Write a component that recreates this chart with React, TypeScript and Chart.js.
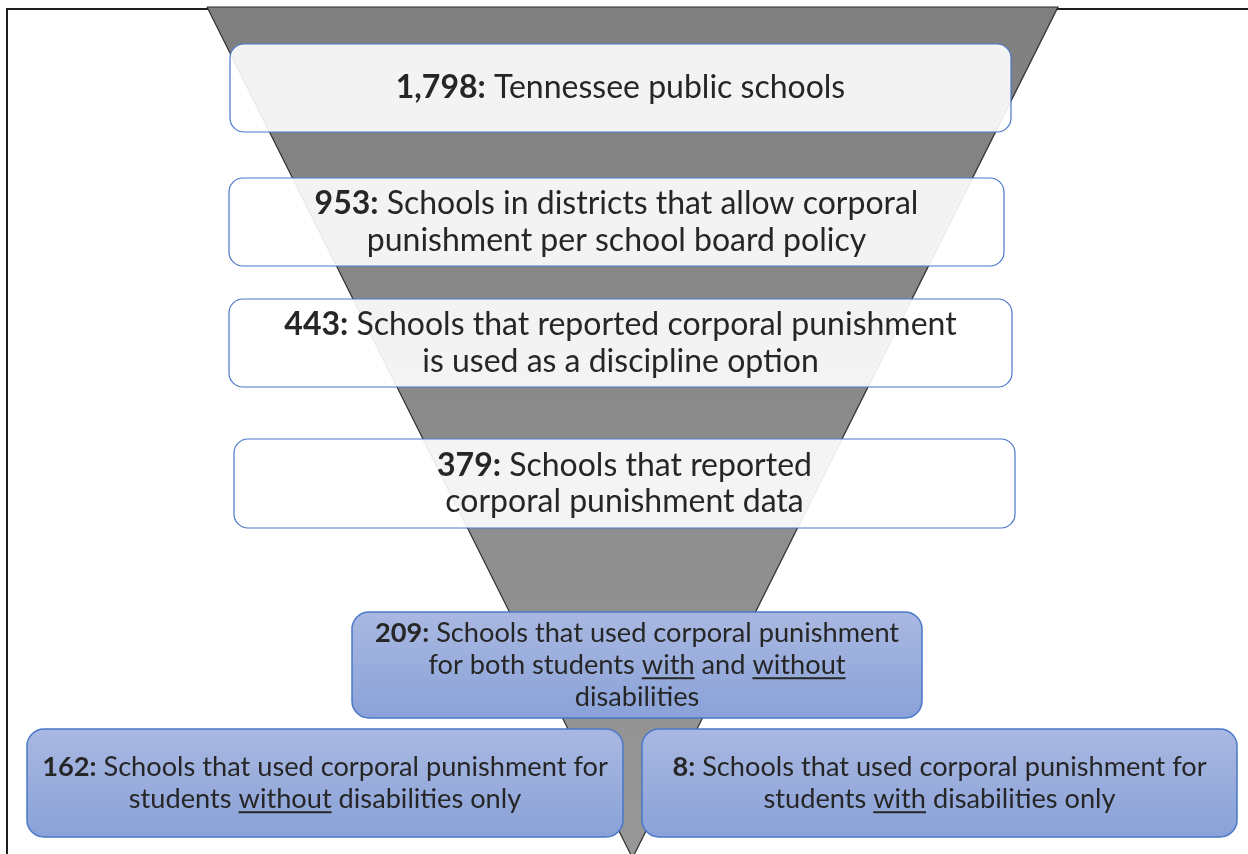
import { useEffect, useRef } from 'react';
import Chart from 'chart.js/auto';

type Seg = { t: string; b?: boolean; u?: boolean };

// Stage counts of the funnel (top to bottom)
const stageCounts: string[] = ['1,798', '953', '443', '379', '209', '162', '8'];

// Description lines for each stage (after the bold count)
const stageText: Seg[][][] = [
  [[{ t: ' Tennessee public schools' }]],
  [[{ t: ' Schools in districts that allow corporal' }], [{ t: 'punishment per school board policy' }]],
  [[{ t: ' Schools that reported corporal punishment' }], [{ t: 'is used as a discipline option' }]],
  [[{ t: ' Schools that reported' }], [{ t: 'corporal punishment data' }]],
  [
    [{ t: ' Schools that used corporal punishment' }],
    [{ t: 'for both students ' }, { t: 'with', u: true }, { t: ' and ' }, { t: 'without', u: true }],
    [{ t: 'disabilities' }],
  ],
  [
    [{ t: ' Schools that used corporal punishment for' }],
    [{ t: 'students ' }, { t: 'without', u: true }, { t: ' disabilities only' }],
  ],
  [
    [{ t: ' Schools that used corporal punishment for' }],
    [{ t: 'students ' }, { t: 'with', u: true }, { t: ' disabilities only' }],
  ],
];

// Funnel outline (chart units)
const funnelX: number[] = [207, 1058, 632.5, 207];
const funnelY: number[] = [7, 7, 858, 7];

// Layout of the boxes [left, top, right, bottom] in chart units
const boxLayout: number[][] = [
  [230, 44, 1011, 132],
  [229, 178, 1004, 266],
  [229, 299, 1012, 387],
  [234, 439, 1015, 528],
  [352, 612, 922, 718],
  [27, 729, 623, 837],
  [642, 729, 1237, 837],
];

const FONT = 'Lato, "Noto Sans", sans-serif';

function roundRect(ctx: CanvasRenderingContext2D, x0: number, y0: number, x1: number, y1: number, r: number) {
  ctx.beginPath();
  ctx.moveTo(x0 + r, y0);
  ctx.lineTo(x1 - r, y0);
  ctx.arcTo(x1, y0, x1, y0 + r, r);
  ctx.lineTo(x1, y1 - r);
  ctx.arcTo(x1, y1, x1 - r, y1, r);
  ctx.lineTo(x0 + r, y1);
  ctx.arcTo(x0, y1, x0, y1 - r, r);
  ctx.lineTo(x0, y0 + r);
  ctx.arcTo(x0, y0, x0 + r, y0, r);
  ctx.closePath();
}

const framePlugin = {
  id: 'frame',
  beforeDatasetsDraw(chart: any) {
    const { ctx, scales } = chart;
    const x = scales.x, y = scales.y;
    ctx.save();
    ctx.strokeStyle = '#1e1e1e';
    ctx.lineWidth = 2;
    ctx.beginPath();
    ctx.moveTo(x.getPixelForValue(7), y.getPixelForValue(854));
    ctx.lineTo(x.getPixelForValue(7), y.getPixelForValue(9));
    ctx.lineTo(x.getPixelForValue(1248), y.getPixelForValue(9));
    ctx.stroke();
    ctx.restore();
  },
};

const boxesPlugin = {
  id: 'boxes',
  afterDatasetsDraw(chart: any) {
    const { ctx, scales } = chart;
    const xs = scales.x, ys = scales.y;
    ctx.save();
    boxLayout.forEach((b, i) => {
      const x0 = xs.getPixelForValue(b[0]);
      const y0 = ys.getPixelForValue(b[1]);
      const x1 = xs.getPixelForValue(b[2]);
      const y1 = ys.getPixelForValue(b[3]);
      const blue = i >= 4;
      roundRect(ctx, x0, y0, x1, y1, blue ? 17 : 14);
      if (blue) {
        const g = ctx.createLinearGradient(0, y0, 0, y1);
        g.addColorStop(0, '#a9b8e1');
        g.addColorStop(1, '#8aa2d8');
        ctx.fillStyle = g;
      } else {
        ctx.fillStyle = 'rgba(255,255,255,0.9)';
      }
      ctx.fill();
      ctx.strokeStyle = '#4a78c8';
      ctx.lineWidth = blue ? 1.5 : 1.2;
      ctx.stroke();

      const size = blue ? 27.2 : 32;
      const lh = blue ? 32 : 36.5;
      const lines = stageText[i];
      const cx = (x0 + x1) / 2;
      const cy = (y0 + y1) / 2;
      ctx.textBaseline = 'middle';
      ctx.fillStyle = '#262626';
      lines.forEach((line, li) => {
        const segs: Seg[] = li === 0 ? [{ t: stageCounts[i] + ':', b: true }, ...line] : line;
        let total = 0;
        const widths = segs.map((s) => {
          ctx.font = `${s.b ? 'bold ' : ''}${size}px ${FONT}`;
          const w = ctx.measureText(s.t).width;
          total += w;
          return w;
        });
        let xx = cx - total / 2;
        const yy = cy + (li - (lines.length - 1) / 2) * lh;
        segs.forEach((s, si) => {
          ctx.font = `${s.b ? 'bold ' : ''}${size}px ${FONT}`;
          ctx.fillText(s.t, xx, yy);
          if (s.u) {
            ctx.fillRect(xx, yy + size * 0.45, widths[si], 2);
          }
          xx += widths[si];
        });
      });
    });
    ctx.restore();
  },
};

export default function App() {
  const ref = useRef<HTMLCanvasElement | null>(null);
  useEffect(() => {
    document.body.style.margin = '0';
    if (!ref.current) return;
    const chart = new Chart(ref.current, {
      type: 'scatter',
      data: {
        datasets: [
          {
            data: funnelX.map((v, i) => ({ x: v, y: funnelY[i] })),
            showLine: true,
            fill: 'shape',
            tension: 0,
            pointRadius: 0,
            borderColor: '#2e2e2e',
            borderWidth: 1.2,
            backgroundColor: (c: any) => {
              const a = c.chart.chartArea;
              if (!a) return '#888';
              const g = c.chart.ctx.createLinearGradient(0, a.top, 0, a.bottom);
              g.addColorStop(0, '#7f7f7f');
              g.addColorStop(1, '#979797');
              return g;
            },
          } as any,
        ],
      },
      options: {
        responsive: false,
        animation: false,
        layout: { padding: 0 },
        plugins: { legend: { display: false }, tooltip: { enabled: false } },
        scales: {
          x: { type: 'linear', min: 0, max: 1248, display: false },
          y: { type: 'linear', min: 0, max: 854, reverse: true, display: false },
        },
      },
      plugins: [framePlugin, boxesPlugin],
    });
    return () => chart.destroy();
  }, []);
  return <canvas ref={ref} width={1248} height={854} style={{ display: 'block' }} />;
}
